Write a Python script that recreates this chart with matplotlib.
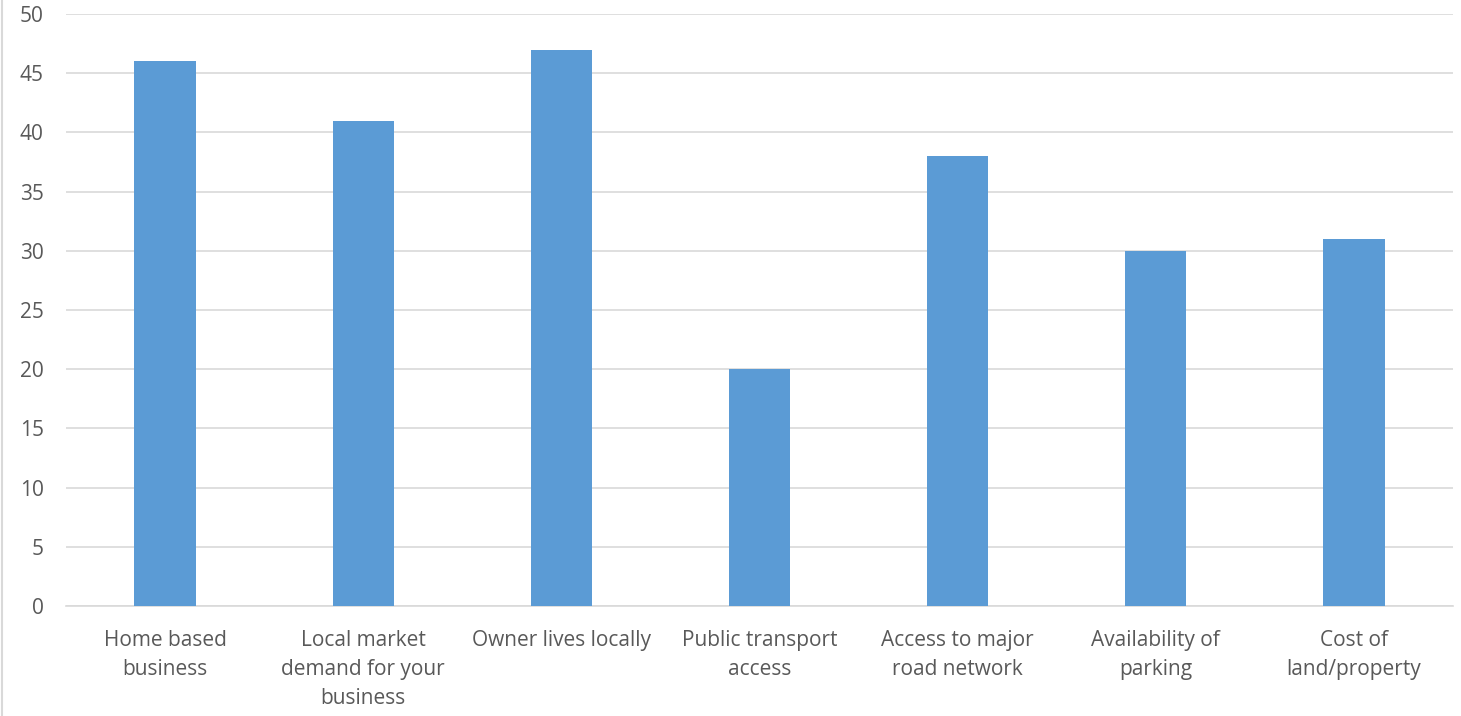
import matplotlib.pyplot as plt
from matplotlib.lines import Line2D

categories = ["Home based\nbusiness", "Local market\ndemand for your\nbusiness",
              "Owner lives locally", "Public transport\naccess",
              "Access to major\nroad network", "Availability of\nparking",
              "Cost of\nland/property"]
values = [46, 41, 47, 20, 38, 30, 31]
y_ticks = list(range(0, 51, 5))

plt.rcParams['font.family'] = ['Open Sans', 'DejaVu Sans']

fig = plt.figure(figsize=(14.61, 7.16), dpi=100)
ax = fig.add_axes([0.0452, 0.1536, 0.9493, 0.8268])

x = range(len(categories))
ax.bar(x, values, width=0.31, color='#5B9BD5', zorder=3)

ax.set_xlim(-0.5, len(categories) - 0.5)
ax.set_ylim(0, 50)
ax.set_yticks(y_ticks)
ax.set_xticks(list(x))
ax.set_xticklabels(categories, fontsize=15, color='#595959', linespacing=1.52)
ax.tick_params(axis='y', labelsize=15, labelcolor='#595959', length=0, pad=16)
ax.tick_params(axis='x', length=0, pad=17)

ax.grid(axis='y', color='#D9D9D9', linewidth=1.2, zorder=0)
for s in ['top', 'right', 'left']:
    ax.spines[s].set_visible(False)
ax.spines['bottom'].set_color('#D9D9D9')
ax.spines['bottom'].set_linewidth(1.2)

# chart border on the left edge
fig.add_artist(Line2D([0.0015, 0.0015], [0, 1], color='#D9D9D9', linewidth=1.5))

fig.savefig("out.png", dpi=100)
